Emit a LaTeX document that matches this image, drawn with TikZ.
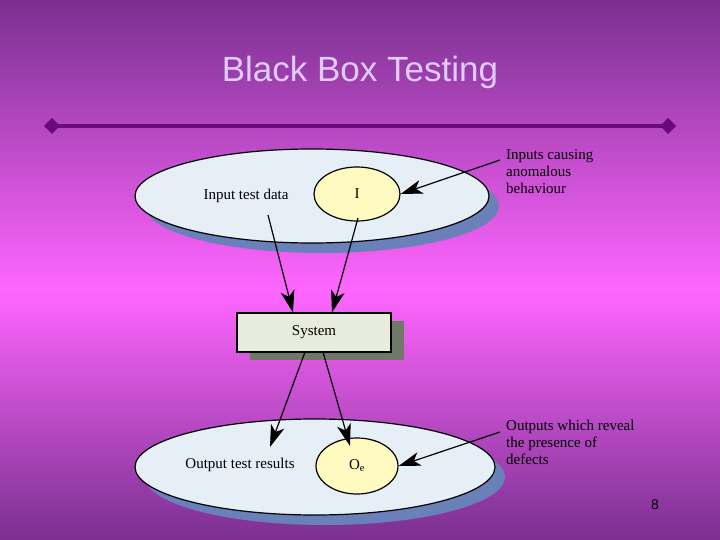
\documentclass[tikz,border=0pt]{standalone}
\usepackage{fontspec}
\setmainfont{Liberation Serif}
\newfontfamily\sansf{Liberation Sans}
\usetikzlibrary{arrows.meta,shapes.geometric}
\definecolor{bgtop}{HTML}{7A3090}
\definecolor{bgmid}{HTML}{FF66FF}
\definecolor{shd}{HTML}{6A80B8}
\definecolor{ell}{HTML}{E6EEF6}
\definecolor{yel}{HTML}{FFFAC0}
\definecolor{boxf}{HTML}{E8ECDC}
\definecolor{boxs}{HTML}{707868}
\definecolor{rule}{HTML}{6A0A7A}
\definecolor{titc}{HTML}{E0CCF8}
\tikzset{
 arr/.style={draw=black,line width=1.2pt,-{Stealth[length=22pt,width=14pt,inset=6pt]}},
 lbl/.style={font=\fontsize{15}{17}\selectfont,align=left,anchor=north west,inner sep=0pt},
 txt/.style={font=\fontsize{15}{17}\selectfont},
 big/.style={ellipse,draw=black,line width=1.2pt,fill=ell,inner sep=0pt},
 small/.style={ellipse,draw=black,line width=1.2pt,fill=yel,inner sep=0pt,minimum width=86pt,minimum height=54pt},
}
\begin{document}
\begin{tikzpicture}[x=1pt,y=-1pt]
\useasboundingbox (0,0) rectangle (720,540);
\shade[top color=bgtop,bottom color=bgmid] (0,0) rectangle (720,290);
\shade[top color=bgmid,bottom color=bgtop] (0,290) rectangle (720,540);
\node[font=\sansf\fontsize{35}{38}\selectfont,text=titc] (title) at (360,72) {Black Box Testing};
\draw[rule,line width=4pt] (55,126) -- (665,126);
\fill[rule] (52,118) -- (60,126) -- (52,134) -- (44,126) -- cycle;
\fill[rule] (668,118) -- (676,126) -- (668,134) -- (660,126) -- cycle;
% top
\fill[shd] (322,206) ellipse [x radius=177,y radius=47];
\node[big,minimum width=354pt,minimum height=94pt] (inp) at (312,196) {};
\node[txt] (inl) at (246,196) {Input test data};
\node[small,txt] (I) at (357,194) {I};
% system
\fill[boxs] (250,321) rectangle (404,360);
\node[draw=black,line width=1.2pt,fill=boxf,minimum width=154pt,minimum height=39pt,txt] (sys) at (314,332.5) {System};
% bottom
\fill[shd] (325,477) ellipse [x radius=180,y radius=48];
\node[big,minimum width=360pt,minimum height=96pt] (out) at (315,467) {};
\node[txt] (outl) at (240,465) {Output test results};
\node[small,minimum width=82pt,minimum height=56pt,txt] (O) at (357,466) {O$_\mathrm{e}$};
% labels
\node[lbl] (l1) at (506,149) {Inputs causing\\anomalous\\behaviour};
\node[lbl] (l2) at (506,420) {Outputs which reveal\\the presence of\\defects};
\coordinate (a1) at (500,160);
\coordinate (a2) at (500,432);
\coordinate (s1) at (268,215);
\coordinate (s2) at (358,218);
\coordinate (t1) at (305,352);
\coordinate (t2) at (323,352);
\draw[arr] (s1) -- (sys.north west -| 293,0);
\draw[arr] (s2) -- (sys.north west -| 332,0);
\draw[arr] (t1) -- (270,447);
\draw[arr] (t2) -- (350,446);
\draw[arr] (a1) -- (I.east);
\draw[arr] (a2) -- (O.east);
\node[font=\sansf\fontsize{14}{16}\selectfont] (pg) at (655,505) {8};
\end{tikzpicture}
\end{document}
